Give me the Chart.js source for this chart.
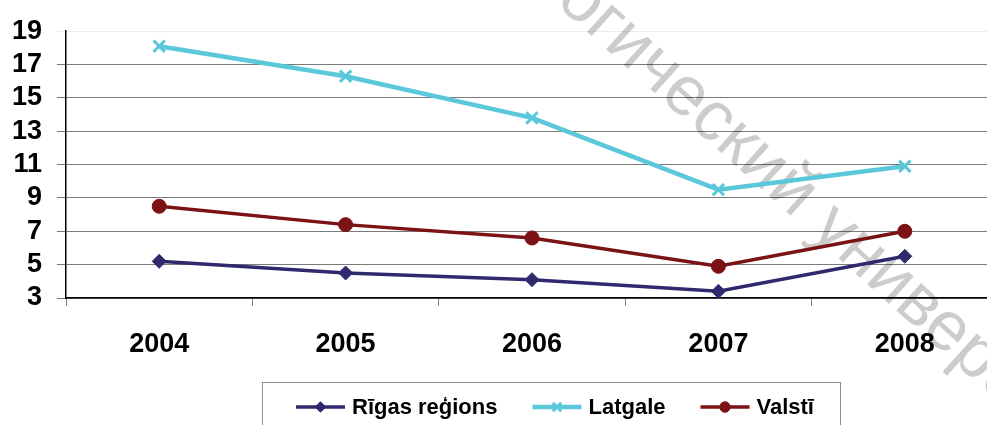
<!DOCTYPE html>
<html>
<head>
<meta charset="utf-8">
<script src="https://cdn.jsdelivr.net/npm/chart.js@4.4.1/dist/chart.umd.min.js"></script>
<style>
  html, body { margin: 0; padding: 0; background: #fff; overflow: hidden; width: 987px; height: 425px; }
  #wrap { width: 1010px; height: 425px; position: relative; }
</style>
</head>
<body>
<div id="wrap"><canvas id="c" width="1010" height="425"></canvas></div>
<script>
const years = ['2004', '2005', '2006', '2007', '2008'];
const rigasRegions = [5.2, 4.5, 4.1, 3.4, 5.5];
const latgale = [18.1, 16.3, 13.8, 9.5, 10.9];
const valsti = [8.5, 7.4, 6.6, 4.9, 7.0];
const seriesNames = ['Rīgas reģions', 'Latgale', 'Valstī'];
const yTickValues = [3, 5, 7, 9, 11, 13, 15, 17, 19];
const watermarkText = 'огический университет';

const FONT = '"Liberation Sans", Arial, sans-serif';

const watermarkPlugin = {
  id: 'watermark',
  beforeDatasetsDraw(chart) {
    const ctx = chart.ctx;
    ctx.save();
    ctx.font = 'normal 400 70px ' + FONT;
    const ang = 42 * Math.PI / 180;
    const c = Math.cos(ang), s = Math.sin(ang);
    const gx = 605, gy = 24;
    const up = 18;
    const w0 = ctx.measureText('о').width + ctx.measureText('г').width / 2;
    const sx = (gx - s * up) - w0 * c;
    const sy = (gy + c * up) - w0 * s;
    ctx.translate(sx, sy);
    ctx.rotate(ang);
    ctx.textBaseline = 'alphabetic';
    ctx.textAlign = 'left';
    ctx.globalAlpha = 0.2;
    ctx.fillStyle = '#000000';
    ctx.fillText(watermarkText, 0, 0);
    ctx.restore();
  }
};

const legendPlugin = {
  id: 'customLegend',
  afterDraw(chart) {
    const ctx = chart.ctx;
    ctx.save();
    ctx.strokeStyle = '#8c8c8c';
    ctx.lineWidth = 1;
    ctx.strokeRect(262.5, 382.5, 578, 80);
    ctx.font = 'bold 22px ' + FONT;
    ctx.textBaseline = 'middle';
    let x = 296;
    const y = 407;
    chart.data.datasets.forEach(ds => {
      ctx.strokeStyle = ds.borderColor;
      ctx.lineWidth = ds.borderWidth;
      ctx.beginPath();
      ctx.moveTo(x, y);
      ctx.lineTo(x + 49, y);
      ctx.stroke();
      ctx.fillStyle = ds.pointBackgroundColor;
      ctx.strokeStyle = ds.pointBorderColor;
      ctx.lineWidth = ds.pointBorderWidth;
      Chart.helpers.drawPoint(ctx, {
        pointStyle: ds.pointStyle,
        radius: ds.pointRadius * 0.75,
        borderWidth: ds.pointBorderWidth,
        rotation: 0
      }, x + 24.5, y);
      ctx.fillStyle = '#000';
      ctx.fillText(ds.label, x + 56, y + 1);
      x = x + 56 + ctx.measureText(ds.label).width + 35;
    });
    ctx.restore();
  }
};

new Chart(document.getElementById('c'), {
  type: 'line',
  data: {
    labels: years,
    datasets: [
      {
        label: seriesNames[0], data: rigasRegions,
        borderColor: '#2f2a6e', backgroundColor: '#2f2a6e',
        pointBackgroundColor: '#2f2a6e', pointBorderColor: '#2f2a6e',
        borderWidth: 3.5, pointStyle: 'rectRot', pointRadius: 7, pointBorderWidth: 1,
        tension: 0, fill: false
      },
      {
        label: seriesNames[1], data: latgale,
        borderColor: '#5bc7db', backgroundColor: '#5bc7db',
        pointBackgroundColor: '#5bc7db', pointBorderColor: '#5bc7db',
        borderWidth: 4.5, pointStyle: 'crossRot', pointRadius: 8, pointBorderWidth: 3,
        tension: 0, fill: false
      },
      {
        label: seriesNames[2], data: valsti,
        borderColor: '#7b1214', backgroundColor: '#7b1214',
        pointBackgroundColor: '#7b1214', pointBorderColor: '#7b1214',
        borderWidth: 3.5, pointStyle: 'circle', pointRadius: 7, pointBorderWidth: 1,
        tension: 0, fill: false
      }
    ]
  },
  options: {
    responsive: false,
    animation: false,
    devicePixelRatio: 1,
    layout: { padding: { top: 26, right: 12, left: 0, bottom: 0 } },
    plugins: {
      legend: { display: false },
      tooltip: { enabled: false }
    },
    scales: {
      x: {
        offset: true,
        grid: { display: true, drawOnChartArea: false, drawTicks: true, offset: true, tickLength: 8, color: '#808080', lineWidth: 1 },
        border: { display: true, color: '#000', width: 1.5 },
        ticks: { font: { family: FONT, size: 27, weight: 'bold' }, color: '#000', padding: 22, maxRotation: 0 },
        afterFit(scale) { scale.height = 127; }
      },
      y: {
        min: 3, max: 19,
        afterBuildTicks(scale) { scale.ticks = yTickValues.map(v => ({ value: v })); },
        grid: {
          color: (c) => (c.tick && c.tick.value === 19) ? '#ececec' : '#7a7a7a',
          lineWidth: 1, drawTicks: true, tickLength: 9
        },
        border: { display: true, color: '#000', width: 1.5 },
        ticks: { font: { family: FONT, size: 27, weight: 'bold' }, color: '#000', padding: 15, autoSkip: false },
        afterFit(scale) { scale.width = 66; }
      }
    }
  },
  plugins: [watermarkPlugin, legendPlugin]
});
</script>
</body>
</html>
